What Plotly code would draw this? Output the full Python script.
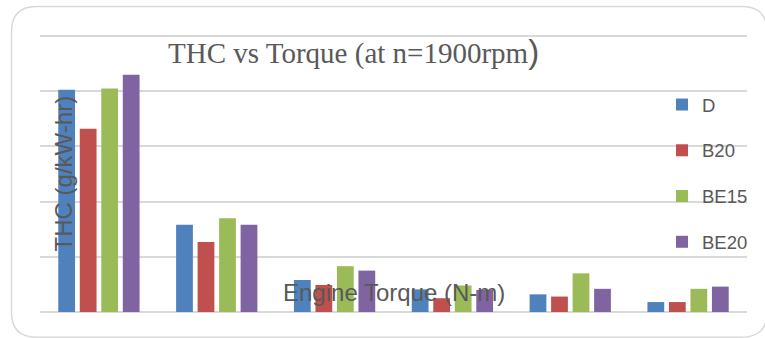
import plotly.graph_objects as go

# ---- data (y in gridline units) ----
categories = ["L1", "L2", "L3", "L4", "L5", "L6"]
D    = [4.03, 1.58, 0.58, 0.41, 0.32, 0.18]
B20  = [3.32, 1.27, 0.49, 0.25, 0.28, 0.18]
BE15 = [4.05, 1.70, 0.83, 0.48, 0.70, 0.42]
BE20 = [4.30, 1.58, 0.75, 0.40, 0.42, 0.46]
series_names = ["D", "B20", "BE15", "BE20"]
series_vals = [D, B20, BE15, BE20]
colors = ["#4F81BD", "#C0504D", "#9BBB59", "#8064A2"]

W, H = 765, 338
L, R, T, B = 40, 18, 35, 26
PW, PH = W - L - R, H - T - B


def px_x(px):
    return (px - L) / PW


def px_y(py):
    return (H - B - py) / PH


fig = go.Figure()
for i, (name, vals) in enumerate(zip(series_names, series_vals)):
    fig.add_trace(go.Bar(
        x=categories, y=vals, name=name, legendgroup=name,
        marker=dict(color=colors[i], line=dict(width=0)),
    ))

# rounded outer border
x0, x1 = px_x(11.5), px_x(767)
y0, y1 = px_y(337.2), px_y(6.5)
rx, ry = 25 / PW, 25 / PH
path = (f"M{x0+rx},{y1} L{x1-rx},{y1} Q{x1},{y1} {x1},{y1-ry} "
        f"L{x1},{y0+ry} Q{x1},{y0} {x1-rx},{y0} L{x0+rx},{y0} "
        f"Q{x0},{y0} {x0},{y0+ry} L{x0},{y1-ry} Q{x0},{y1} {x0+rx},{y1} Z")

fig.update_layout(
    width=W, height=H,
    margin=dict(l=L, r=R, t=T, b=B, pad=0),
    paper_bgcolor="white", plot_bgcolor="white",
    font=dict(family="Liberation Sans, Arial, sans-serif", color="#595959"),
    barmode="group", bargap=0.27, bargroupgap=0.22,
    showlegend=True,
    legend=dict(
        x=px_x(662), xanchor="left", y=px_y(86), yanchor="top",
        bgcolor="rgba(0,0,0,0)", font=dict(size=18.5, color="#595959"),
        traceorder="grouped", tracegroupgap=18.7, itemwidth=30,
    ),
    xaxis=dict(showticklabels=False, showgrid=False, zeroline=False,
               showline=False, ticks="", range=[-0.5, 5.5]),
    yaxis=dict(range=[0, 5.02], dtick=1, showticklabels=False, ticks="",
               showgrid=True, gridcolor="#D9D9D9", gridwidth=1.5,
               zeroline=True, zerolinecolor="#D9D9D9", zerolinewidth=1.5,
               showline=False),
    shapes=[dict(type="path", path=path, xref="paper", yref="paper",
                 line=dict(color="#D9D9D9", width=1.5), layer="above")],
    annotations=[
        dict(text='THC vs Torque (at n=1900rpm<span style="font-family:Liberation Sans;font-size:33px">)</span>',
             x=px_x(166), xanchor="left", y=px_y(51), yanchor="middle",
             xref="paper", yref="paper", showarrow=False,
             font=dict(family="Liberation Serif, Times New Roman, serif", size=29, color="#595959")),
        dict(text="Engine Torque (N-m)", x=px_x(393.5), xanchor="center",
             y=px_y(292), yanchor="middle", xref="paper", yref="paper",
             showarrow=False, font=dict(size=24, color="#595959")),
        dict(text="THC (g/kW-hr)", textangle=-90, x=px_x(63.4), xanchor="center",
             y=px_y(173), yanchor="middle", xref="paper", yref="paper",
             showarrow=False, font=dict(size=24, color="#595959")),
    ],
)

fig.write_html("out.html")
